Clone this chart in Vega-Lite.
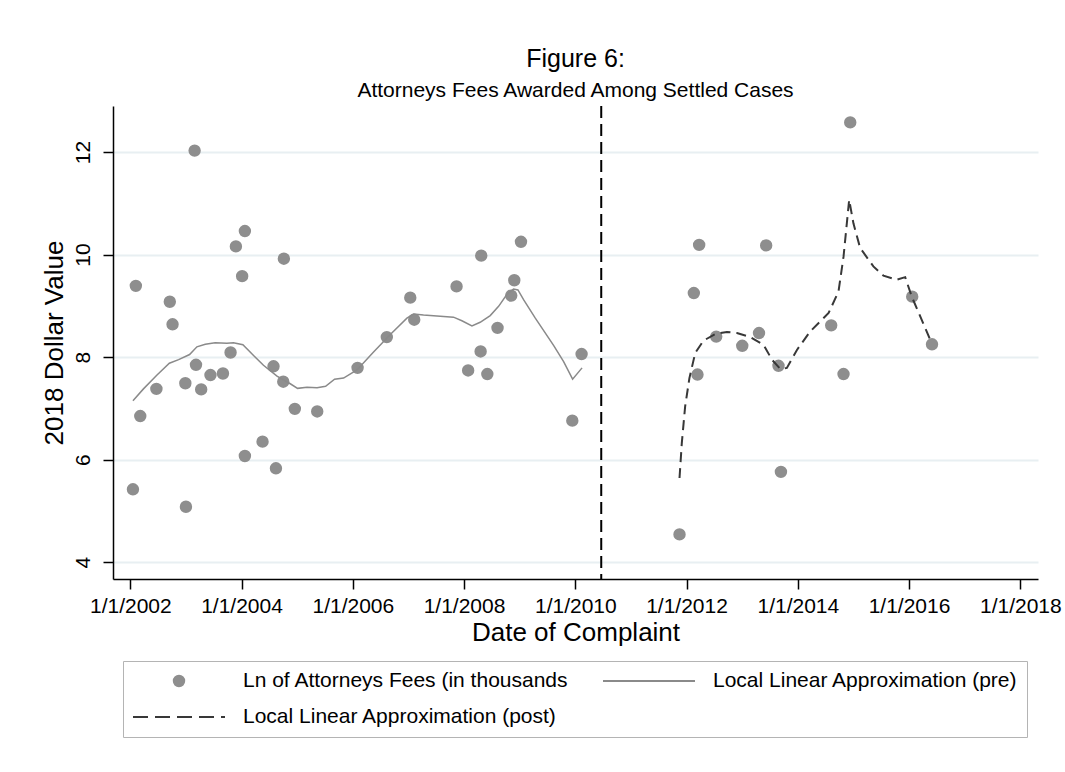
{
  "$schema": "https://vega.github.io/schema/vega-lite/v6.json",
  "width": 925,
  "height": 473,
  "autosize": {"type": "none"},
  "padding": {"left": 113, "top": 106, "right": 27, "bottom": 193},
  "background": "white",
  "config": {
    "font": "Liberation Sans",
    "view": {"stroke": null},
    "legend": {
      "orient": "none",
      "legendX": 10,
      "legendY": 555,
      "direction": "horizontal",
      "columns": 2,
      "columnPadding": 33,
      "rowPadding": 14,
      "padding": 9,
      "clipHeight": 22,
      "symbolStrokeWidth": 2,
      "labelFontSize": 21,
      "labelColor": "black",
      "labelOffset": 17,
      "labelLimit": 600,
      "fillColor": "white",
      "strokeColor": "#b4b4b4",
      "symbolOpacity": 1
    }
  },
  "title": {
    "text": "Figure 6:",
    "subtitle": "Attorneys Fees Awarded Among Settled Cases",
    "anchor": "middle",
    "font": "Liberation Sans",
    "subtitleFont": "Liberation Sans",
    "fontSize": 25,
    "subtitleFontSize": 21,
    "fontWeight": "normal",
    "color": "black",
    "subtitleColor": "black",
    "offset": 4,
    "subtitlePadding": 8
  },
  "datasets": {
    "points": [
      {"date": "2002-01-18", "value": 5.42},
      {"date": "2002-02-06", "value": 9.39},
      {"date": "2002-03-07", "value": 6.85},
      {"date": "2002-06-21", "value": 7.38},
      {"date": "2002-09-17", "value": 9.08},
      {"date": "2002-10-05", "value": 8.64},
      {"date": "2003-01-01", "value": 5.08},
      {"date": "2002-12-28", "value": 7.49},
      {"date": "2003-02-27", "value": 12.03},
      {"date": "2003-03-08", "value": 7.85},
      {"date": "2003-04-11", "value": 7.37},
      {"date": "2003-06-11", "value": 7.65},
      {"date": "2003-09-01", "value": 7.68},
      {"date": "2003-10-21", "value": 8.09},
      {"date": "2003-11-25", "value": 10.16},
      {"date": "2004-01-23", "value": 10.46},
      {"date": "2004-01-05", "value": 9.58},
      {"date": "2004-01-23", "value": 6.07},
      {"date": "2004-05-18", "value": 6.35},
      {"date": "2004-07-29", "value": 7.82},
      {"date": "2004-08-14", "value": 5.83},
      {"date": "2004-10-05", "value": 9.92},
      {"date": "2004-10-01", "value": 7.52},
      {"date": "2004-12-16", "value": 6.99},
      {"date": "2005-05-12", "value": 6.94},
      {"date": "2006-02-01", "value": 7.79},
      {"date": "2006-08-12", "value": 8.39},
      {"date": "2007-01-13", "value": 9.16},
      {"date": "2007-02-08", "value": 8.73},
      {"date": "2007-11-13", "value": 9.38},
      {"date": "2008-01-28", "value": 7.74},
      {"date": "2008-04-23", "value": 9.98},
      {"date": "2008-04-19", "value": 8.11},
      {"date": "2008-06-02", "value": 7.67},
      {"date": "2008-08-08", "value": 8.57},
      {"date": "2008-11-06", "value": 9.20},
      {"date": "2008-11-26", "value": 9.50},
      {"date": "2009-01-09", "value": 10.25},
      {"date": "2009-12-12", "value": 6.76},
      {"date": "2010-02-11", "value": 8.06},
      {"date": "2011-11-16", "value": 4.54},
      {"date": "2012-03-24", "value": 10.19},
      {"date": "2012-02-18", "value": 9.25},
      {"date": "2012-03-13", "value": 7.66},
      {"date": "2012-07-14", "value": 8.40},
      {"date": "2013-01-01", "value": 8.22},
      {"date": "2013-04-21", "value": 8.47},
      {"date": "2013-06-07", "value": 10.18},
      {"date": "2013-08-27", "value": 7.83},
      {"date": "2013-09-12", "value": 5.76},
      {"date": "2014-08-08", "value": 8.62},
      {"date": "2014-10-28", "value": 7.67},
      {"date": "2014-12-11", "value": 12.58},
      {"date": "2016-01-22", "value": 9.18},
      {"date": "2016-05-31", "value": 8.25}
    ],
    "pre": [
      {"date": "2002-01-18", "value": 7.15},
      {"date": "2002-03-28", "value": 7.38},
      {"date": "2002-06-25", "value": 7.65},
      {"date": "2002-09-14", "value": 7.88},
      {"date": "2002-11-14", "value": 7.95},
      {"date": "2003-01-25", "value": 8.05},
      {"date": "2003-03-14", "value": 8.20},
      {"date": "2003-05-08", "value": 8.25},
      {"date": "2003-07-12", "value": 8.28},
      {"date": "2003-09-27", "value": 8.27},
      {"date": "2003-11-09", "value": 8.28},
      {"date": "2004-01-10", "value": 8.24},
      {"date": "2004-03-20", "value": 8.03},
      {"date": "2004-05-24", "value": 7.84},
      {"date": "2004-08-21", "value": 7.63},
      {"date": "2004-11-16", "value": 7.48},
      {"date": "2005-01-03", "value": 7.39},
      {"date": "2005-03-06", "value": 7.41},
      {"date": "2005-05-11", "value": 7.40},
      {"date": "2005-07-06", "value": 7.43},
      {"date": "2005-09-03", "value": 7.57},
      {"date": "2005-11-01", "value": 7.59},
      {"date": "2006-01-28", "value": 7.75},
      {"date": "2006-05-17", "value": 8.10},
      {"date": "2006-09-04", "value": 8.44},
      {"date": "2006-12-22", "value": 8.76},
      {"date": "2007-02-04", "value": 8.84},
      {"date": "2007-04-10", "value": 8.82},
      {"date": "2007-07-07", "value": 8.80},
      {"date": "2007-10-24", "value": 8.78},
      {"date": "2007-12-18", "value": 8.71},
      {"date": "2008-02-22", "value": 8.61},
      {"date": "2008-04-16", "value": 8.68},
      {"date": "2008-06-21", "value": 8.81},
      {"date": "2008-08-15", "value": 8.99},
      {"date": "2008-10-08", "value": 9.22},
      {"date": "2008-11-21", "value": 9.33},
      {"date": "2008-12-20", "value": 9.31},
      {"date": "2009-01-26", "value": 9.12},
      {"date": "2009-04-13", "value": 8.76},
      {"date": "2009-08-11", "value": 8.23},
      {"date": "2009-10-16", "value": 7.91},
      {"date": "2009-12-14", "value": 7.57},
      {"date": "2010-02-14", "value": 7.79}
    ],
    "post": [
      {"date": "2011-11-16", "value": 5.64},
      {"date": "2011-12-01", "value": 6.32},
      {"date": "2011-12-23", "value": 7.04},
      {"date": "2012-01-20", "value": 7.59},
      {"date": "2012-02-27", "value": 8.08},
      {"date": "2012-04-21", "value": 8.32},
      {"date": "2012-07-07", "value": 8.45},
      {"date": "2012-09-22", "value": 8.49},
      {"date": "2012-11-27", "value": 8.47},
      {"date": "2013-02-23", "value": 8.39},
      {"date": "2013-05-21", "value": 8.24},
      {"date": "2013-07-15", "value": 7.95},
      {"date": "2013-09-07", "value": 7.77},
      {"date": "2013-10-21", "value": 7.79},
      {"date": "2013-12-26", "value": 8.14},
      {"date": "2014-03-23", "value": 8.50},
      {"date": "2014-07-22", "value": 8.86},
      {"date": "2014-09-25", "value": 9.28},
      {"date": "2014-10-28", "value": 9.96},
      {"date": "2014-12-04", "value": 11.07},
      {"date": "2015-01-01", "value": 10.61},
      {"date": "2015-02-14", "value": 10.13},
      {"date": "2015-05-12", "value": 9.77},
      {"date": "2015-07-17", "value": 9.59},
      {"date": "2015-10-13", "value": 9.51},
      {"date": "2015-12-07", "value": 9.56},
      {"date": "2016-01-19", "value": 9.18},
      {"date": "2016-05-19", "value": 8.34}
    ],
    "cutoff": [
      {"date": "2010-06-20"}
    ]
  },
  "layer": [
    {
      "data": {"name": "points"},
      "mark": {"type": "point", "filled": true, "opacity": 1},
      "encoding": {
        "x": {
          "field": "date",
          "type": "temporal",
          "scale": {
            "type": "utc",
            "nice": false,
            "domain": [
              {"year": 2001, "month": 9, "date": 9, "utc": true},
              {"year": 2018, "month": 4, "date": 27, "utc": true}
            ]
          },
          "axis": {
            "values": [
              {"year": 2002, "month": 1, "date": 1, "utc": true},
              {"year": 2004, "month": 1, "date": 1, "utc": true},
              {"year": 2006, "month": 1, "date": 1, "utc": true},
              {"year": 2008, "month": 1, "date": 1, "utc": true},
              {"year": 2010, "month": 1, "date": 1, "utc": true},
              {"year": 2012, "month": 1, "date": 1, "utc": true},
              {"year": 2014, "month": 1, "date": 1, "utc": true},
              {"year": 2016, "month": 1, "date": 1, "utc": true},
              {"year": 2018, "month": 1, "date": 1, "utc": true}
            ],
            "format": "%-m/%-d/%Y",
            "title": "Date of Complaint",
            "titleFontSize": 26,
            "titleFontWeight": "normal",
            "titleColor": "black",
            "titleY": 61,
            "titleBaseline": "alphabetic",
            "labelFontSize": 21,
            "labelColor": "black",
            "labelPadding": 6,
            "labelFlush": false,
            "labelOverlap": false,
            "tickSize": 10,
            "tickColor": "black",
            "tickWidth": 1.5,
            "domainColor": "black",
            "domainWidth": 1.5,
            "grid": false
          }
        },
        "y": {
          "field": "value",
          "type": "quantitative",
          "scale": {"domain": [3.67, 12.9], "nice": false, "zero": false},
          "axis": {
            "values": [4, 6, 8, 10, 12],
            "title": "2018 Dollar Value",
            "titleFontSize": 26,
            "titleFontWeight": "normal",
            "titleColor": "black",
            "titleAngle": 270,
            "titleAlign": "center",
            "titleBaseline": "alphabetic",
            "titleX": -51,
            "titleY": 236.5,
            "labelFontSize": 21,
            "labelColor": "black",
            "labelAngle": 270,
            "labelAlign": "center",
            "labelBaseline": "alphabetic",
            "labelPadding": 14,
            "tickSize": 10,
            "tickColor": "black",
            "tickWidth": 1.5,
            "domainColor": "black",
            "domainWidth": 1.5,
            "grid": true,
            "gridColor": "#e8eff2",
            "gridWidth": 2
          }
        },
        "fill": {
          "datum": "Ln of Attorneys Fees (in thousands",
          "scale": {
            "domain": ["Ln of Attorneys Fees (in thousands", "Local Linear Approximation (pre)", "Local Linear Approximation (post)"],
            "range": ["#8e8e8e", "transparent", "transparent"]
          },
          "legend": {"title": null}
        },
        "stroke": {
          "datum": "Ln of Attorneys Fees (in thousands",
          "scale": {
            "domain": ["Ln of Attorneys Fees (in thousands", "Local Linear Approximation (pre)", "Local Linear Approximation (post)"],
            "range": ["transparent", "#8a8a8a", "#383838"]
          },
          "legend": {"title": null}
        },
        "shape": {
          "datum": "Ln of Attorneys Fees (in thousands",
          "scale": {
            "domain": ["Ln of Attorneys Fees (in thousands", "Local Linear Approximation (pre)", "Local Linear Approximation (post)"],
            "range": ["circle", "stroke", "stroke"]
          },
          "legend": {"title": null}
        },
        "size": {
          "datum": "Ln of Attorneys Fees (in thousands",
          "scale": {
            "type": "ordinal",
            "domain": ["Ln of Attorneys Fees (in thousands", "Local Linear Approximation (pre)", "Local Linear Approximation (post)"],
            "range": [154, 8464, 8464]
          },
          "legend": {"title": null}
        },
        "strokeDash": {
          "datum": "Ln of Attorneys Fees (in thousands",
          "scale": {
            "domain": ["Ln of Attorneys Fees (in thousands", "Local Linear Approximation (pre)", "Local Linear Approximation (post)"],
            "range": [[1, 0], [1, 0], [15, 7]]
          },
          "legend": {"title": null}
        }
      }
    },
    {
      "data": {"name": "pre"},
      "mark": {"type": "line", "strokeWidth": 1.5},
      "encoding": {
        "x": {"field": "date", "type": "temporal"},
        "y": {"field": "value", "type": "quantitative"},
        "stroke": {"datum": "Local Linear Approximation (pre)", "legend": {"title": null}}
      }
    },
    {
      "data": {"name": "post"},
      "mark": {"type": "line", "strokeWidth": 2, "strokeDash": [10, 6]},
      "encoding": {
        "x": {"field": "date", "type": "temporal"},
        "y": {"field": "value", "type": "quantitative"},
        "stroke": {"datum": "Local Linear Approximation (post)", "legend": {"title": null}}
      }
    },
    {
      "data": {"name": "cutoff"},
      "mark": {"type": "rule", "color": "black", "strokeWidth": 2, "strokeDash": [12, 6]},
      "encoding": {
        "x": {"field": "date", "type": "temporal"}
      }
    }
  ]
}
